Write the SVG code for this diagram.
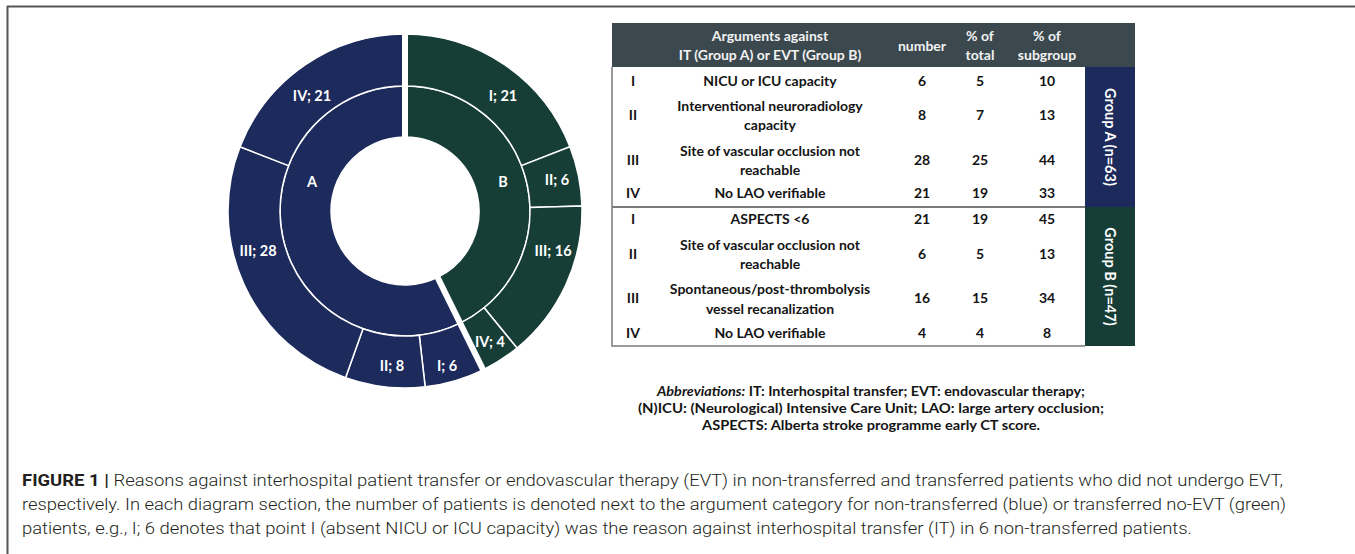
<svg xmlns="http://www.w3.org/2000/svg" width="1355" height="554" viewBox="0 0 1355 554">
<style>
.sa{fill:#1c2a5c;stroke:#fff;stroke-width:1.5}
.sb{fill:#163e37;stroke:#fff;stroke-width:1.5}
.gap{stroke:#fff;stroke-width:6;fill:none}
.lbl{font-family:Lato,"Open Sans",sans-serif;font-weight:700;font-size:14.5px;fill:#fff;text-anchor:middle}
.t{font-family:Lato,"Open Sans",sans-serif;font-weight:700;font-size:14px;fill:#141414;text-anchor:middle}
.h{font-family:Lato,"Open Sans",sans-serif;font-weight:700;font-size:14px;fill:#f2f2f2;text-anchor:middle}
.g{font-family:Lato,"Open Sans",sans-serif;font-weight:700;font-size:14.5px;fill:#fff;text-anchor:middle}
.ab{font-family:Lato,"Open Sans",sans-serif;font-weight:700;font-size:13.5px;fill:#141414;text-anchor:middle}
.cap{font-family:Roboto,"Liberation Sans",sans-serif;font-weight:300;font-size:16px;fill:#231f20}
.frame{stroke:#555;stroke-width:2;fill:none}
.tb{stroke:#7a7a7a;stroke-width:1.5;fill:none}
</style>

<g id="frame">
<line class="frame" x1="7" y1="6.5" x2="1355" y2="6.5"/>
<line class="frame" x1="7.5" y1="6" x2="7.5" y2="554"/>
</g>

<g id="donut">
<g id="inner-B"><path class="sb" d="M405,86 A125,125 0 0 1 460.16,323.18 L437.66,277.41 A74,74 0 0 0 405,137 Z"/><text class="lbl" x="503" y="187">B</text></g>
<g id="inner-A"><path class="sa" d="M460.16,323.18 A125,125 0 1 1 405,86 L405,137 A74,74 0 1 0 437.66,277.41 Z"/><text class="lbl" x="312" y="187">A</text></g>

<g id="B-I"><path class="sb" d="M405,86 L405,34 A177,177 0 0 1 569.93,146.78 L521.48,165.65 A125,125 0 0 0 405,86 Z"/><text class="lbl" x="503" y="101">I; 21</text></g>
<g id="B-II"><path class="sb" d="M521.48,165.65 L569.93,146.78 A177,177 0 0 1 581.93,205.95 L529.95,207.43 A125,125 0 0 0 521.48,165.65 Z"/><text class="lbl" x="557" y="185">II; 6</text></g>
<g id="B-III"><path class="sb" d="M529.95,207.43 L581.93,205.95 A177,177 0 0 1 517,348.05 L484.1,307.79 A125,125 0 0 0 529.95,207.43 Z"/><text class="lbl" x="553" y="256">III; 16</text></g>
<g id="B-IV"><path class="sb" d="M484.1,307.79 L517,348.05 A177,177 0 0 1 483.11,369.84 L460.16,323.18 A125,125 0 0 0 484.1,307.79 Z"/><text class="lbl" x="490" y="347">IV; 4</text></g>

<g id="A-I"><path class="sa" d="M460.16,323.18 L483.11,369.84 A177,177 0 0 1 425.17,386.85 L419.25,335.19 A125,125 0 0 0 460.16,323.18 Z"/><text class="lbl" x="447" y="371">I; 6</text></g>
<g id="A-II"><path class="sa" d="M419.25,335.19 L425.17,386.85 A177,177 0 0 1 345.53,377.71 L363,328.73 A125,125 0 0 0 419.25,335.19 Z"/><text class="lbl" x="392" y="371">II; 8</text></g>
<g id="A-III"><path class="sa" d="M363,328.73 L345.53,377.71 A177,177 0 0 1 240.07,146.78 L288.52,165.65 A125,125 0 0 0 363,328.73 Z"/><text class="lbl" x="258" y="256">III; 28</text></g>
<g id="A-IV"><path class="sa" d="M288.52,165.65 L240.07,146.78 A177,177 0 0 1 405,34 L405,86 A125,125 0 0 0 288.52,165.65 Z"/><text class="lbl" x="312" y="101">IV; 21</text></g>

<g id="separators">
<line class="gap" x1="405" y1="139" x2="405" y2="30"/>
<line class="gap" x1="436.7" y1="275.6" x2="485" y2="373.6"/>
</g>
</g>

<g id="table">
<rect x="612" y="23" width="523" height="44" fill="#3b494f"/>
<text class="h" x="770" y="41">Arguments against</text>
<text class="h" x="770" y="60">IT (Group A) or EVT (Group B)</text>
<text class="h" x="922" y="51">number</text>
<text class="h" x="980" y="41">% of</text>
<text class="h" x="980" y="60">total</text>
<text class="h" x="1047" y="41">% of</text>
<text class="h" x="1047" y="60">subgroup</text>

<g id="groupA">
<rect x="1085" y="67" width="50" height="140" fill="#1c2a5c"/>
<text class="g" transform="translate(1105,137) rotate(90)" y="0">Group A (n=63)</text>
<text class="t" x="633" y="86">I</text><text class="t" x="770" y="86">NICU or ICU capacity</text><text class="t" x="922" y="86">6</text><text class="t" x="980" y="86">5</text><text class="t" x="1047" y="86">10</text>
<text class="t" x="633" y="120">II</text><text class="t" x="770" y="111">Interventional neuroradiology</text><text class="t" x="770" y="130">capacity</text><text class="t" x="922" y="120">8</text><text class="t" x="980" y="120">7</text><text class="t" x="1047" y="120">13</text>
<text class="t" x="633" y="165">III</text><text class="t" x="770" y="156">Site of vascular occlusion not</text><text class="t" x="770" y="175">reachable</text><text class="t" x="922" y="165">28</text><text class="t" x="980" y="165">25</text><text class="t" x="1047" y="165">44</text>
<text class="t" x="633" y="198">IV</text><text class="t" x="770" y="198">No LAO verifiable</text><text class="t" x="922" y="198">21</text><text class="t" x="980" y="198">19</text><text class="t" x="1047" y="198">33</text>
</g>

<g id="groupB">
<rect x="1085" y="207" width="50" height="139" fill="#163e37"/>
<text class="g" transform="translate(1105,276.5) rotate(90)" y="0">Group B (n=47)</text>
<text class="t" x="633" y="224">I</text><text class="t" x="770" y="224">ASPECTS &lt;6</text><text class="t" x="922" y="224">21</text><text class="t" x="980" y="224">19</text><text class="t" x="1047" y="224">45</text>
<text class="t" x="633" y="259">II</text><text class="t" x="770" y="250">Site of vascular occlusion not</text><text class="t" x="770" y="269">reachable</text><text class="t" x="922" y="259">6</text><text class="t" x="980" y="259">5</text><text class="t" x="1047" y="259">13</text>
<text class="t" x="633" y="303">III</text><text class="t" x="770" y="294">Spontaneous/post-thrombolysis</text><text class="t" x="770" y="314">vessel recanalization</text><text class="t" x="922" y="303">16</text><text class="t" x="980" y="303">15</text><text class="t" x="1047" y="303">34</text>
<text class="t" x="633" y="338">IV</text><text class="t" x="770" y="338">No LAO verifiable</text><text class="t" x="922" y="338">4</text><text class="t" x="980" y="338">4</text><text class="t" x="1047" y="338">8</text>
</g>

<path class="tb" d="M612,67 V346 H1085"/>
<line x1="612" y1="207" x2="1085" y2="207" stroke="#7a7a7a" stroke-width="2"/>
</g>

<g id="abbreviations">
<text class="ab" x="871" y="396" textLength="428" lengthAdjust="spacingAndGlyphs"><tspan font-style="italic">Abbreviations:</tspan> IT: Interhospital transfer; EVT: endovascular therapy;</text>
<text class="ab" x="871" y="413" textLength="466" lengthAdjust="spacingAndGlyphs">(N)ICU: (Neurological) Intensive Care Unit; LAO: large artery occlusion;</text>
<text class="ab" x="871" y="430" textLength="338" lengthAdjust="spacingAndGlyphs">ASPECTS: Alberta stroke programme early CT score.</text>
</g>

<g id="caption">
<text class="cap" x="22" y="486" textLength="1261" lengthAdjust="spacingAndGlyphs"><tspan font-weight="700">FIGURE 1 |</tspan> Reasons against interhospital patient transfer or endovascular therapy (EVT) in non-transferred and transferred patients who did not undergo EVT,</text>
<text class="cap" x="22" y="510" textLength="1264" lengthAdjust="spacingAndGlyphs">respectively. In each diagram section, the number of patients is denoted next to the argument category for non-transferred (blue) or transferred no-EVT (green)</text>
<text class="cap" x="22" y="534" textLength="1170" lengthAdjust="spacingAndGlyphs">patients, e.g., I; 6 denotes that point I (absent NICU or ICU capacity) was the reason against interhospital transfer (IT) in 6 non-transferred patients.</text>
</g>
</svg>
